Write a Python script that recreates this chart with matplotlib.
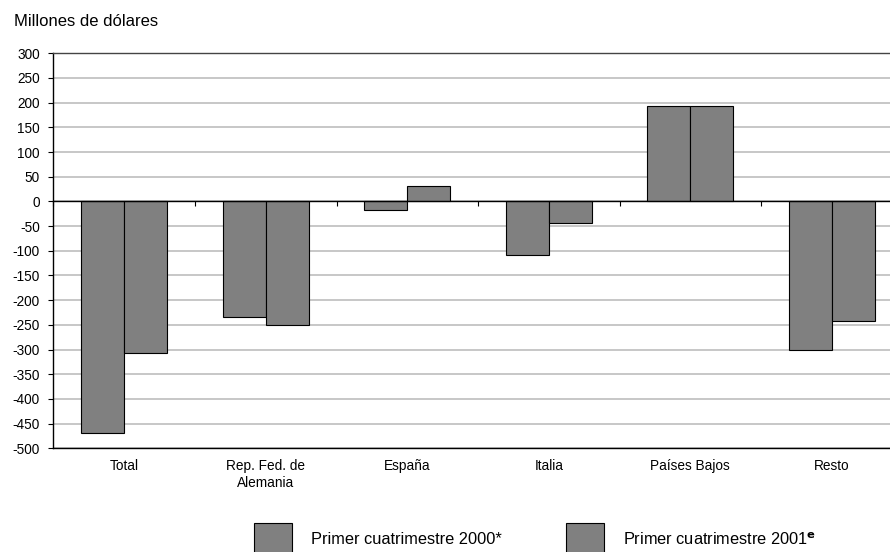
import numpy as np
import matplotlib
matplotlib.use("Agg")
import matplotlib.pyplot as plt
from matplotlib.patches import Rectangle

# ── Data ────────────────────────────────────────────────
categories = ["Total", "Rep. Fed. de\nAlemania", "España", "Italia", "Países Bajos", "Resto"]
values_2000 = [-469, -235, -18, -109, 193, -300]
values_2001 = [-308, -250, 31, -43, 194, -242]
series_labels = ["Primer cuatrimestre 2000*", "Primer cuatrimestre 2001$^{\\mathbf{e}}$"]
y_ticks = np.arange(-500, 301, 50)

# ── Style ───────────────────────────────────────────────
plt.rcParams["font.family"] = ["Liberation Sans", "DejaVu Sans"]
BAR_COLOR  = "#808080"
GRID_COLOR = "#b8b8b8"
BAR_W      = 0.305

fig = plt.figure(figsize=(8.9, 5.52), dpi=100)
ax = fig.add_axes([0.0601, 0.1879, 0.954, 0.7156])

x = np.arange(len(categories))
ax.bar(x - BAR_W / 2, values_2000, BAR_W, color=BAR_COLOR, edgecolor="black", linewidth=0.8, zorder=3)
ax.bar(x + BAR_W / 2, values_2001, BAR_W, color=BAR_COLOR, edgecolor="black", linewidth=0.8, zorder=3)

ax.set_xlim(-0.5, len(categories) - 0.5)
ax.set_ylim(y_ticks[0], y_ticks[-1])
ax.set_yticks(y_ticks)
ax.set_yticklabels([str(v) for v in y_ticks], fontsize=9.8)
ax.yaxis.grid(True, color=GRID_COLOR, linewidth=1.1, zorder=0)
ax.set_axisbelow(True)
ax.tick_params(axis="y", direction="out", length=3.8, width=0.8, pad=6)

ax.set_xticks(x)
ax.set_xticklabels(categories, fontsize=9.8, linespacing=1.25)
ax.tick_params(axis="x", length=0, pad=8)

for side in ["left", "bottom"]:
    ax.spines[side].set_color("black")
    ax.spines[side].set_linewidth(1.0)
ax.spines["top"].set_color("#444444")
ax.spines["top"].set_linewidth(1.0)
ax.spines["right"].set_visible(False)

# zero line with small category separator ticks (Excel style)
zero_frac = (0 - y_ticks[0]) / (y_ticks[-1] - y_ticks[0])
sec = ax.secondary_xaxis(zero_frac)
sec.set_xticks(np.arange(-0.5, len(categories), 1.0))
sec.set_xticklabels([])
sec.tick_params(direction="in", length=3.5, width=0.8, color="black")
for sp in sec.spines.values():
    sp.set_color("black")
    sp.set_linewidth(1.0)
sec.set_zorder(4)

# ── Title & legend ──────────────────────────────────────
fig.text(14 / 890, 1 - 21 / 552, "Millones de dólares", fontsize=12, va="center", ha="left")

legend_x = [254 / 890, 566 / 890]
for lx, lab in zip(legend_x, series_labels):
    fig.add_artist(Rectangle((lx, -0.02), 38 / 890, 0.0731, transform=fig.transFigure,
                             facecolor=BAR_COLOR, edgecolor="black", linewidth=0.8, clip_on=False))
    fig.text(lx + 57 / 890, 1 - 540 / 552, lab, fontsize=11.8, va="center", ha="left")

fig.savefig("out.png", dpi=100)
